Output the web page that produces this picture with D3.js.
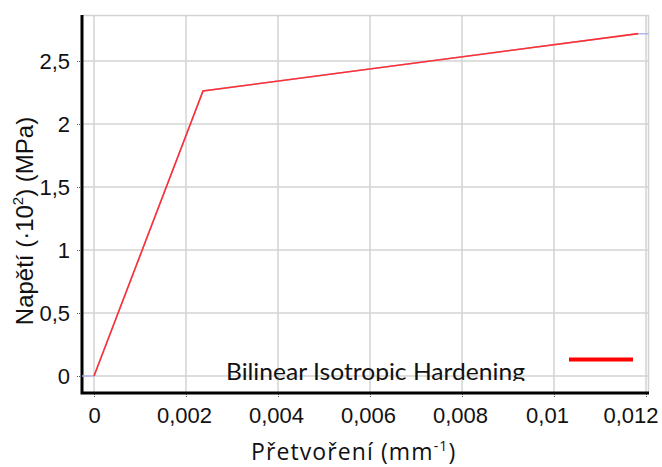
<!DOCTYPE html>
<html>
<head>
<meta charset="utf-8">
<script src="https://cdn.jsdelivr.net/npm/d3@7"></script>
<style>
    body { margin: 0; background: #fff; }
    .tick text { font-family: "Liberation Sans", Arial, sans-serif; font-size: 22px; fill: #111; }
</style>
</head>
<body>
<div id="chart"></div>
<script>
// strain (mm^-1) and stress (x10^2 MPa)
var strain = [0, 0.00237, 0.01183];
var stress = [0, 2.262, 2.717];
// faint blue series that sits under the red one
var blueStrain = [-0.00026, 0, 0.00237, 0.01183, 0.01206];
var blueStress = [0, 0, 2.262, 2.717, 2.717];

var xTicks = [0, 0.002, 0.004, 0.006, 0.008, 0.01, 0.012];
var yTicks = [0, 0.5, 1, 1.5, 2, 2.5];
var seriesName = "Bilinear Isotropic Hardening";

var margin = { top: 15, right: 13, bottom: 74, left: 82 };
var width = 662 - margin.left - margin.right;
var height = 467 - margin.top - margin.bottom;

var svg = d3.select("#chart").append("svg")
    .attr("width", 662)
    .attr("height", 467);

var g = svg.append("g")
    .attr("transform", "translate(" + margin.left + "," + margin.top + ")");

var x = d3.scaleLinear().domain([-0.000261, 0.012065]).range([0, width]);
var y = d3.scaleLinear().domain([-0.135, 2.865]).range([height, 0]);

var fmt = function (d) { return String(d).replace(".", ","); };

// grid
g.selectAll(".vgrid").data(xTicks).enter().append("line")
    .attr("x1", function (d) { return x(d); })
    .attr("x2", function (d) { return x(d); })
    .attr("y1", 0).attr("y2", height)
    .attr("stroke", "#d3d3d3").attr("stroke-width", 1.5);

g.selectAll(".hgrid").data(yTicks).enter().append("line")
    .attr("x1", 0).attr("x2", width)
    .attr("y1", function (d) { return y(d); })
    .attr("y2", function (d) { return y(d); })
    .attr("stroke", "#d3d3d3").attr("stroke-width", 1.5);

// top / right border
g.append("path")
    .attr("d", "M0,0.5H" + (width - 0.5) + "V" + height)
    .attr("fill", "none").attr("stroke", "#d3d3d3").attr("stroke-width", 1.5);

// axes
var xAxisCall = d3.axisBottom(x).tickValues(xTicks).tickFormat(fmt).tickSize(4).tickPadding(6);
var yAxisCall = d3.axisLeft(y).tickValues(yTicks).tickFormat(fmt).tickSize(4).tickPadding(6);

var xAxis = g.append("g").attr("transform", "translate(0," + (height + 1) + ")").call(xAxisCall);
var yAxis = g.append("g").attr("transform", "translate(-2,0)").call(yAxisCall);
xAxis.select(".domain").remove();
yAxis.select(".domain").remove();
xAxis.selectAll(".tick line").attr("stroke", "#555").attr("stroke-dasharray", "1,1");
yAxis.selectAll(".tick line").attr("stroke", "#555").attr("stroke-dasharray", "1,1");
xAxis.selectAll(".tick text")
    .attr("dy", "0.85em")
    .attr("dx", function (d) { return d === 0 ? 0 : (d === 0.01 ? -7 : -2); });
// last label pulled inside the frame, as in the original
xAxis.selectAll(".tick text").filter(function (d) { return d === 0.012; })
    .attr("text-anchor", "end")
    .attr("dx", 658 - margin.left - x(0.012));

// thick black axis lines
g.append("path")
    .attr("d", "M0,0V" + height + "H" + width)
    .attr("fill", "none").attr("stroke", "#000").attr("stroke-width", 3);

// lines
var line = d3.line()
    .x(function (d) { return x(d[0]); })
    .y(function (d) { return y(d[1]); });

g.append("path")
    .datum(d3.zip(blueStrain, blueStress))
    .attr("d", line)
    .attr("fill", "none").attr("stroke", "#b4b4f0").attr("stroke-width", 1.5);

g.append("path")
    .datum(d3.zip(strain, stress))
    .attr("d", line)
    .attr("fill", "none").attr("stroke", "#ff3030").attr("stroke-width", 1.6);

// legend (text clipped at the bottom like the original)
svg.append("clipPath").attr("id", "legclip")
    .append("rect").attr("x", 0).attr("y", 0).attr("width", 662).attr("height", 381);

svg.append("text")
    .attr("x", 226).attr("y", 380)
    .attr("clip-path", "url(#legclip)")
    .attr("font-family", "Lato, 'Open Sans', sans-serif")
    .attr("font-size", 24)
    .attr("textLength", 299)
    .attr("lengthAdjust", "spacingAndGlyphs")
    .attr("fill", "#111")
    .text(seriesName);

svg.append("line")
    .attr("x1", 569).attr("x2", 633)
    .attr("y1", 359.5).attr("y2", 359.5)
    .attr("stroke", "#ff0000").attr("stroke-width", 4);

// axis titles
var xt = svg.append("text")
    .attr("x", 251).attr("y", 460)
    .attr("font-family", "'Open Sans', Lato, sans-serif")
    .attr("font-size", 23)
    .attr("letter-spacing", 1.1)
    .attr("fill", "#111");
xt.append("tspan").text("Přetvoření (mm");
xt.append("tspan").attr("font-size", 14).attr("dy", -9).text("-1");
xt.append("tspan").attr("dy", 9).text(")");

var yt = svg.append("text")
    .attr("transform", "translate(33,221) rotate(-90)")
    .attr("text-anchor", "middle")
    .attr("font-family", "'Liberation Sans', Arial, sans-serif")
    .attr("font-size", 24)
    .attr("fill", "#111");
yt.append("tspan").text("Napětí (·10");
yt.append("tspan").attr("font-size", 15).attr("dy", -10).text("2");
yt.append("tspan").attr("dy", 10).text(") (MPa)");
</script>
</body>
</html>
